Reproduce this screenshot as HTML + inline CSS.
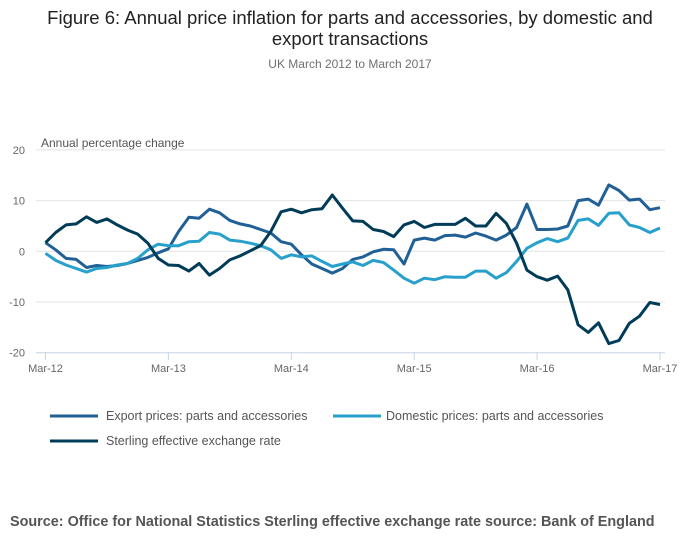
<!DOCTYPE html>
<html><head><meta charset="utf-8"><style>
body{margin:0;background:#fff;font-family:"Liberation Sans",sans-serif;}
svg{display:block}
</style></head><body>
<svg width="700" height="549" viewBox="0 0 700 549">
<text x="350" y="24" text-anchor="middle" font-size="18.5" fill="#222">Figure 6: Annual price inflation for parts and accessories, by domestic and</text>
<text x="350" y="45" text-anchor="middle" font-size="18.5" fill="#222">export transactions</text>
<text x="350" y="68" text-anchor="middle" font-size="12" fill="#707070">UK March 2012 to March 2017</text>
<text x="41" y="147" font-size="12" fill="#555">Annual percentage change</text>
<g id="grid"></g><g id="xaxis"></g><g id="series"></g>
<g>
<line x1="50" y1="416" x2="98" y2="416" stroke="#206095" stroke-width="3"/>
<text x="106" y="420" font-size="12.5" fill="#555">Export prices: parts and accessories</text>
<line x1="333" y1="416" x2="381" y2="416" stroke="#27a0cc" stroke-width="3"/>
<text x="386" y="420" font-size="12.5" fill="#555">Domestic prices: parts and accessories</text>
<line x1="50" y1="441" x2="98" y2="441" stroke="#003c57" stroke-width="3"/>
<text x="106" y="445" font-size="12.5" fill="#555">Sterling effective exchange rate</text>
</g>
<text x="10" y="526" font-size="14.4" font-weight="bold" fill="#555">Source: Office for National Statistics  Sterling effective exchange rate source: Bank of England</text>
</svg>
<script>
const xLabels=["Mar-12","Mar-13","Mar-14","Mar-15","Mar-16","Mar-17"];
const yTicks=[20,10,0,-10,-20];
const exportVals=[1.7,0.3,-1.4,-1.6,-3.2,-2.8,-3.0,-2.8,-2.4,-1.8,-1.2,-0.3,0.5,3.9,6.7,6.5,8.3,7.6,6.1,5.4,5.0,4.3,3.6,1.9,1.4,-0.7,-2.5,-3.4,-4.3,-3.4,-1.6,-1.1,-0.1,0.4,0.3,-2.5,2.2,2.6,2.2,3.1,3.2,2.8,3.6,3.0,2.2,3.2,4.7,9.3,4.3,4.3,4.4,5.0,10.0,10.3,9.1,13.1,12.0,10.1,10.3,8.2,8.6];
const domesticVals=[-0.4,-1.8,-2.7,-3.4,-4.1,-3.4,-3.2,-2.7,-2.4,-1.4,0.3,1.4,1.1,1.1,1.9,2.0,3.7,3.4,2.2,2.0,1.6,1.1,0.3,-1.4,-0.7,-1.1,-0.9,-2.0,-3.0,-2.5,-2.1,-2.8,-1.8,-2.2,-3.7,-5.3,-6.3,-5.3,-5.6,-5.0,-5.1,-5.1,-3.9,-3.9,-5.3,-4.2,-2.0,0.6,1.7,2.5,1.9,2.6,6.1,6.4,5.1,7.5,7.6,5.2,4.7,3.7,4.6];
const sterlingVals=[1.7,3.7,5.2,5.4,6.8,5.7,6.4,5.2,4.2,3.4,1.6,-1.4,-2.7,-2.8,-3.9,-2.4,-4.7,-3.4,-1.7,-0.9,0.1,1.1,3.9,7.8,8.3,7.6,8.2,8.4,11.1,8.5,6.0,5.9,4.3,3.9,2.9,5.2,5.9,4.7,5.3,5.3,5.3,6.5,5.0,5.0,7.5,5.5,1.6,-3.7,-5.0,-5.7,-4.9,-7.6,-14.5,-16.0,-14.1,-18.2,-17.6,-14.2,-12.8,-10.1,-10.5];
const NS="http://www.w3.org/2000/svg";
const X0=45.5,X1=660,Y0=251.3,PXU=5.07;
const xs=m=>X0+(X1-X0)*m/60;
const ys=v=>Y0-v*PXU;
function mk(t,a){const e=document.createElementNS(NS,t);for(const k in a)e.setAttribute(k,a[k]);return e;}
const grid=document.getElementById('grid');
yTicks.forEach(v=>{
 const l=mk('line',{x1:36,x2:665,y1:ys(v),y2:ys(v),stroke:v===-20?'#c6d4e6':'#e3e3e3','stroke-width':1});
 
 
 grid.appendChild(l);
 const t=mk('text',{x:25,y:ys(v)+4,'text-anchor':'end','font-size':11,fill:'#666'});
 t.textContent=v;
 
 
 grid.appendChild(t);
});
const xa=document.getElementById('xaxis');
xLabels.forEach((s,i)=>{
 const x=xs(i*12);
 const tk=mk('line',{x1:x,x2:x,y1:352,y2:360,stroke:'#c6d4e6'});
 
 
 xa.appendChild(tk);
 const t=mk('text',{x:x,y:372,'text-anchor':'middle','font-size':11,fill:'#666'});
 t.textContent=s;
 
 
 xa.appendChild(t);
});
const sg=document.getElementById('series');
[[exportVals,'#206095','export-line'],[domesticVals,'#27a0cc','domestic-line'],[sterlingVals,'#003c57','sterling-line']].forEach(([d,c,n])=>{
 const p=mk('polyline',{points:d.map((v,i)=>xs(i).toFixed(1)+','+ys(v).toFixed(1)).join(' '),fill:'none',stroke:c,'stroke-width':3,'stroke-linejoin':'round'});
 
 
 sg.appendChild(p);
});
</script>
</body></html>
